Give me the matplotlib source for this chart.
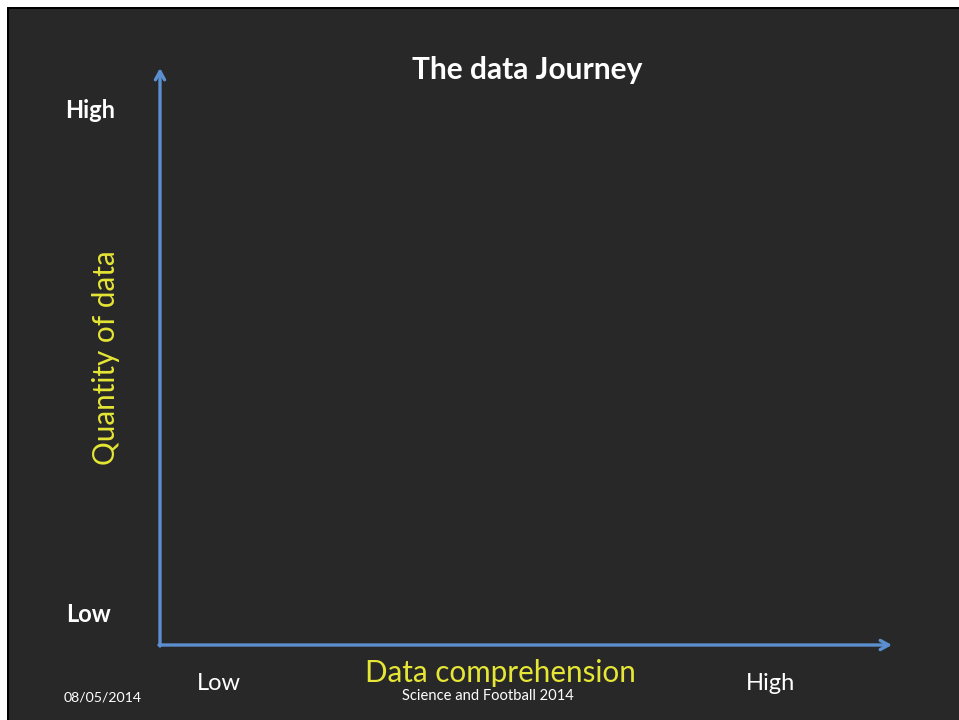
import matplotlib.pyplot as plt
from matplotlib.patches import Rectangle

title = "The data Journey"
x_label = "Data comprehension"
y_label = "Quantity of data"
x_ticks = ["Low", "High"]
y_ticks = ["Low", "High"]
footer_date = "08/05/2014"
footer_text = "Science and Football 2014"

bg = "#282828"
blue = "#5b8fcf"
yellow = "#e6e636"
font = "Lato"

fig = plt.figure(figsize=(9.59, 7.2), dpi=100)
fig.patch.set_facecolor("white")
ax = fig.add_axes([0, 0, 1, 1])
ax.set_xlim(0, 959)
ax.set_ylim(720, 0)
ax.axis("off")

# slide background with thin black frame on top/left
ax.add_patch(Rectangle((7, 7), 960, 720, facecolor="black", edgecolor="none"))
ax.add_patch(Rectangle((9, 9), 960, 720, facecolor=bg, edgecolor="none"))

# axes arrows
arrow = dict(arrowstyle="->,head_length=0.6,head_width=0.33", color=blue, lw=2.4,
             shrinkA=0, shrinkB=0)
ax.annotate("", xy=(160, 68), xytext=(160, 646), arrowprops=arrow)
ax.annotate("", xy=(892, 645), xytext=(159, 645), arrowprops=arrow)

ax.text(527, 70, title, color="white", fontsize=21.5, fontweight="bold",
        family=font, ha="center", va="center")

ax.text(90, 110, y_ticks[1], color="white", fontsize=17, fontweight="bold",
        family=font, ha="center", va="center")
ax.text(89, 615, y_ticks[0], color="white", fontsize=17, fontweight="bold",
        family=font, ha="center", va="center")
ax.text(106, 358, y_label, color=yellow, fontsize=21.3, family=font,
        rotation=90, ha="center", va="center")

ax.text(500, 673, x_label, color=yellow, fontsize=21.3, family=font,
        ha="center", va="center")
ax.text(219, 684, x_ticks[0], color="white", fontsize=17, family=font,
        ha="center", va="center")
ax.text(771, 684, x_ticks[1], color="white", fontsize=17, family=font,
        ha="center", va="center")

ax.text(103, 697, footer_date, color="white", fontsize=10.2, family=font,
        ha="center", va="center")
ax.text(488, 696, footer_text, color="white", fontsize=10.6, family=font,
        ha="center", va="center")

plt.savefig("out.png", dpi=100, facecolor=fig.get_facecolor())
